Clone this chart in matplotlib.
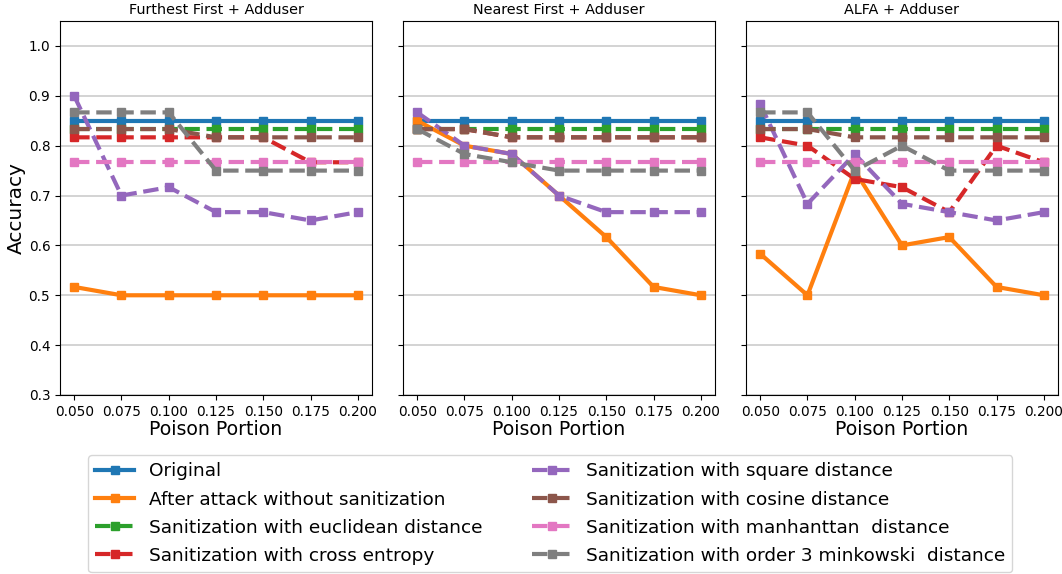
import numpy as np
import matplotlib
matplotlib.use("Agg")
import matplotlib.pyplot as plt

# poison portions on the x axis
portions = [0.05, 0.075, 0.1, 0.125, 0.15, 0.175, 0.2]

titles = ["Furthest First + Adduser", "Nearest First + Adduser", "ALFA + Adduser"]

labels = [
    "Original",
    "After attack without sanitization",
    "Sanitization with euclidean distance",
    "Sanitization with cross entropy",
    "Sanitization with square distance",
    "Sanitization with cosine distance",
    "Sanitization with manhanttan  distance",
    "Sanitization with order 3 minkowski  distance",
]

# accuracy per panel, same order as labels
furthest_original = [0.85, 0.85, 0.85, 0.85, 0.85, 0.85, 0.85]
furthest_attack = [0.5167, 0.5, 0.5, 0.5, 0.5, 0.5, 0.5]
furthest_euclid = [0.8333, 0.8333, 0.8333, 0.8333, 0.8333, 0.8333, 0.8333]
furthest_xent = [0.8167, 0.8167, 0.8167, 0.8167, 0.8167, 0.7667, 0.7667]
furthest_square = [0.9, 0.7, 0.7167, 0.6667, 0.6667, 0.65, 0.6667]
furthest_cosine = [0.8333, 0.8333, 0.8333, 0.8167, 0.8167, 0.8167, 0.8167]
furthest_manhattan = [0.7667, 0.7667, 0.7667, 0.7667, 0.7667, 0.7667, 0.7667]
furthest_minkowski = [0.8667, 0.8667, 0.8667, 0.75, 0.75, 0.75, 0.75]

nearest_original = [0.85, 0.85, 0.85, 0.85, 0.85, 0.85, 0.85]
nearest_attack = [0.85, 0.8, 0.7833, 0.7, 0.6167, 0.5167, 0.5]
nearest_euclid = [0.8333, 0.8333, 0.8333, 0.8333, 0.8333, 0.8333, 0.8333]
nearest_xent = [0.8333, 0.8333, 0.8167, 0.8167, 0.8167, 0.8167, 0.8167]
nearest_square = [0.8667, 0.8, 0.7833, 0.7, 0.6667, 0.6667, 0.6667]
nearest_cosine = [0.8333, 0.8333, 0.8167, 0.8167, 0.8167, 0.8167, 0.8167]
nearest_manhattan = [0.7667, 0.7667, 0.7667, 0.7667, 0.7667, 0.7667, 0.7667]
nearest_minkowski = [0.8333, 0.7833, 0.7667, 0.75, 0.75, 0.75, 0.75]

alfa_original = [0.85, 0.85, 0.85, 0.85, 0.85, 0.85, 0.85]
alfa_attack = [0.5833, 0.5, 0.75, 0.6, 0.6167, 0.5167, 0.5]
alfa_euclid = [0.8333, 0.8333, 0.8333, 0.8333, 0.8333, 0.8333, 0.8333]
alfa_xent = [0.8167, 0.8, 0.7333, 0.7167, 0.6667, 0.8, 0.7667]
alfa_square = [0.8833, 0.6833, 0.7833, 0.6833, 0.6667, 0.65, 0.6667]
alfa_cosine = [0.8333, 0.8333, 0.8167, 0.8167, 0.8167, 0.8167, 0.8167]
alfa_manhattan = [0.7667, 0.7667, 0.7667, 0.7667, 0.7667, 0.7667, 0.7667]
alfa_minkowski = [0.8667, 0.8667, 0.75, 0.8, 0.75, 0.75, 0.75]

panels = [
    [furthest_original, furthest_attack, furthest_euclid, furthest_xent,
     furthest_square, furthest_cosine, furthest_manhattan, furthest_minkowski],
    [nearest_original, nearest_attack, nearest_euclid, nearest_xent,
     nearest_square, nearest_cosine, nearest_manhattan, nearest_minkowski],
    [alfa_original, alfa_attack, alfa_euclid, alfa_xent,
     alfa_square, alfa_cosine, alfa_manhattan, alfa_minkowski],
]

colors = ["tab:blue", "tab:orange", "tab:green", "tab:red",
          "tab:purple", "tab:brown", "tab:pink", "tab:gray"]
styles = ["-", "-", "--", "--", "--", "--", "--", "--"]

W, H = 1062, 574
fig = plt.figure(figsize=(W / 100, H / 100), dpi=100)

lefts = [60, 403, 746]
ax_w, top, bottom = 312, 21, 395
axes = []
for i, left in enumerate(lefts):
    ax = fig.add_axes([left / W, (H - bottom) / H, ax_w / W, (bottom - top) / H])
    axes.append(ax)
    for series, c, ls, lab in zip(panels[i], colors, styles, labels):
        ax.plot(portions, series, color=c, linestyle=ls, marker="s",
                linewidth=3, markersize=6.3, label=lab)
    ax.set_ylim(0.3, 1.05)
    ax.set_yticks(np.arange(0.3, 1.01, 0.1))
    ax.set_xticks(portions)
    ax.set_xticklabels([f"{p:.3f}" for p in portions])
    ax.tick_params(labelsize=9.8)
    ax.grid(axis="y", color="#cccccc", linewidth=1.2)
    ax.set_axisbelow(True)
    ax.set_title(titles[i], fontsize=10.4, pad=5)
    ax.set_xlabel("Poison Portion", fontsize=13.6, labelpad=1)
    if i == 0:
        ax.set_ylabel("Accuracy", fontsize=14.5, labelpad=2)
    else:
        ax.tick_params(labelleft=False)

handles, labs = axes[0].get_legend_handles_labels()
fig.legend(handles, labs, loc="upper center", bbox_to_anchor=(0.518, 0.2073),
           ncol=2, fontsize=13.3, handlelength=2.1, labelspacing=0.55,
           columnspacing=2.7, borderaxespad=0)

fig.savefig("out.png", dpi=100)
